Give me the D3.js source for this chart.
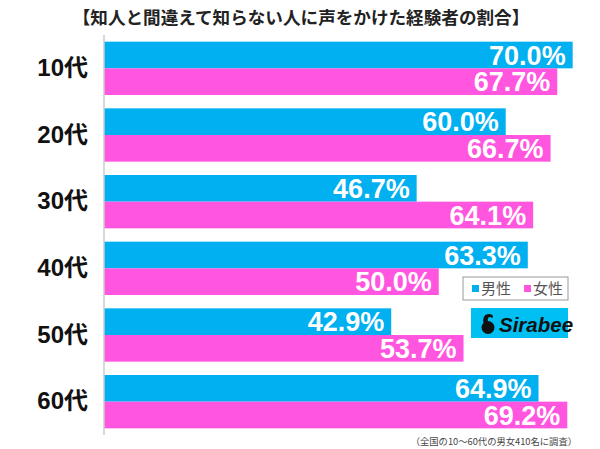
<!DOCTYPE html>
<html>
<head>
<meta charset="utf-8">
<script src="https://cdn.jsdelivr.net/npm/d3@7"></script>
<style>
  body { margin: 0; background: #fff; }
  text { font-family: "Liberation Sans", Arial, "Noto Sans CJK JP", sans-serif; }
</style>
</head>
<body>
<div id="chart"></div>
<script>
var categories = ["10代", "20代", "30代", "40代", "50代", "60代"];
var maleValues = [70.0, 60.0, 46.7, 63.3, 42.9, 64.9];
var femaleValues = [67.7, 66.7, 64.1, 50.0, 53.7, 69.2];
var seriesNames = ["男性", "女性"];
var titleText = "【知人と間違えて知らない人に声をかけた経験者の割合】";
var noteText = "（全国の10〜60代の男女410名に調査）";

var width = 600, height = 449;
var colors = {"男性": "#00b0f0", "女性": "#ff55df"};

var svg = d3.select("#chart").append("svg")
  .attr("width", width).attr("height", height);

//rows built from the arrays
var rows = categories.map(function(c, i) {
  return {cat: c, vals: [
    {key: "男性", v: maleValues[i]},
    {key: "女性", v: femaleValues[i]}
  ]};
});

var x = d3.scaleLinear().domain([0, 100]).range([104, 773.5]);
var y = d3.scaleBand().domain(categories).range([35, 435])
  .paddingInner(0.2).paddingOuter(0.1);
var ySub = d3.scaleBand().domain(seriesNames).range([0, y.bandwidth()]);

svg.append("text")
  .attr("x", 301).attr("y", 24)
  .attr("text-anchor", "middle")
  .attr("font-size", 17.6).attr("font-weight", "bold")
  .attr("fill", "#222")
  .style("font-family", "'Noto Sans CJK JP', sans-serif")
  .text(titleText);

var groups = svg.selectAll("g.row").data(rows).enter().append("g")
  .attr("class", "row")
  .attr("transform", function(d) { return "translate(0," + y(d.cat) + ")"; });

groups.selectAll("rect").data(function(d) { return d.vals; }).enter().append("rect")
  .attr("x", x(0))
  .attr("y", function(d) { return ySub(d.key); })
  .attr("width", function(d) { return x(d.v) - x(0); })
  .attr("height", ySub.bandwidth())
  .attr("fill", function(d) { return colors[d.key]; });

groups.selectAll("text.val").data(function(d) { return d.vals; }).enter().append("text")
  .attr("class", "val")
  .attr("x", function(d) { return x(d.v) - 7; })
  .attr("y", function(d) { return ySub(d.key) + ySub.bandwidth() / 2; })
  .attr("dy", "0.36em")
  .attr("text-anchor", "end")
  .attr("font-size", 27).attr("font-weight", "bold")
  .attr("fill", "#fff")
  .text(function(d) { return d.v.toFixed(1) + "%"; });

//category axis
var yAxis = svg.append("g")
  .attr("transform", "translate(" + x(0) + ",0)")
  .call(d3.axisLeft(y).tickSize(0).tickPadding(16));
yAxis.select(".domain").attr("stroke", "#ccc").attr("stroke-width", 1.5)
  .attr("d", "M0,35V435");
yAxis.selectAll("text")
  .attr("font-size", 24).attr("font-weight", "bold").attr("fill", "#111")
  .style("font-family", "'Liberation Sans', 'Noto Sans CJK JP', sans-serif");

//legend
var legend = svg.append("g").attr("transform", "translate(463,277)");
legend.append("rect").attr("width", 105).attr("height", 23)
  .attr("fill", "#fff").attr("stroke", "#999");
seriesNames.forEach(function(s, i) {
  var lx = 9 + i * 52;
  legend.append("rect").attr("x", lx).attr("y", 8).attr("width", 7).attr("height", 7)
    .attr("fill", colors[s]);
  legend.append("text").attr("x", lx + 9).attr("y", 17)
    .attr("font-size", 15).attr("fill", "#555")
    .style("font-family", "'Noto Sans CJK JP', sans-serif")
    .text(s);
});

//Sirabee logo
var logo = svg.append("g").attr("transform", "translate(471,308)");
logo.append("rect").attr("width", 97).attr("height", 30).attr("fill", "#00bff3");
logo.append("circle").attr("cx", 17).attr("cy", 19.5).attr("r", 6.5).attr("fill", "#111");
logo.append("path")
  .attr("d", "M13,16 C11,11 13,6 18,6 C22,6 23,9 21,10 C19,8 16,9 17,13 Z")
  .attr("fill", "#111");
logo.append("text").attr("x", 28).attr("y", 23.5)
  .attr("font-size", 20.5).attr("font-weight", "bold").attr("font-style", "italic")
  .attr("fill", "#111").text("Sirabee");

svg.append("text")
  .attr("x", 577).attr("y", 445)
  .attr("text-anchor", "end")
  .attr("font-size", 9.3).attr("fill", "#444")
  .style("font-family", "'Noto Sans CJK JP', sans-serif")
  .text(noteText);
</script>
</body>
</html>
